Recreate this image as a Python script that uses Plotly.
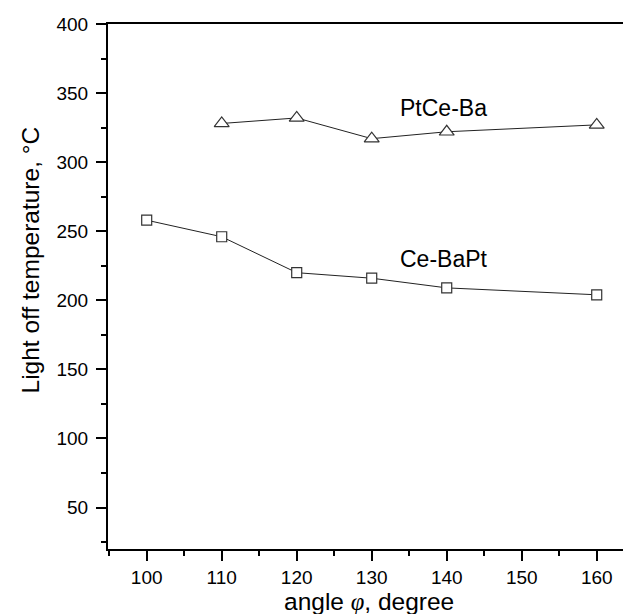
import plotly.graph_objects as go

angle_cebapt = [100, 110, 120, 130, 140, 160]
temp_cebapt = [258, 246, 220, 216, 209, 204]
angle_ptceba = [110, 120, 130, 140, 160]
temp_ptceba = [328, 332, 317, 322, 327]
x_ticks = [100, 110, 120, 130, 140, 150, 160]
y_ticks = [50, 100, 150, 200, 250, 300, 350, 400]

FONT = "Liberation Sans, Arial, sans-serif"
OFF = 8  # default page body margin
W, H = 631 - OFF, 614 - OFF
L, R, T, B = 108 - OFF, 0, 24 - OFF, 65
PW, PH = W - L - R, H - T - B

fig = go.Figure()
fig.add_trace(go.Scatter(
    x=angle_cebapt, y=temp_cebapt, mode="lines+markers", name="Ce-BaPt",
    line=dict(color="#222222", width=1),
    marker=dict(symbol="square", size=10, color="white", line=dict(color="#333333", width=1.2)),
))
fig.add_trace(go.Scatter(
    x=angle_ptceba, y=temp_ptceba, mode="lines+markers", name="PtCe-Ba",
    line=dict(color="#222222", width=1),
    marker=dict(symbol="triangle-up", size=13, color="white", line=dict(color="#333333", width=1.2)),
))

fig.add_annotation(x=139.6, y=339, text="PtCe-Ba", showarrow=False,
                   font=dict(family=FONT, size=23, color="black"))
fig.add_annotation(x=139.6, y=230, text="Ce-BaPt", showarrow=False,
                   font=dict(family=FONT, size=23, color="black"))

# axis titles (positions given in page pixels, converted to paper coords)
fig.add_annotation(xref="paper", yref="paper", x=(30 - OFF - L) / PW, y=1 - (260.5 - OFF - T) / PH,
                   text="Light off temperature, °C", textangle=-90, showarrow=False,
                   xanchor="center", yanchor="middle",
                   font=dict(family=FONT, size=24.5, color="black"))
fig.add_annotation(xref="paper", yref="paper", x=(369 - OFF - L) / PW, y=-(601 - OFF - (H - B)) / PH,
                   text="angle <span style='font-family:Liberation Serif'><i>φ</i></span>, degree",
                   showarrow=False, xanchor="center", yanchor="middle",
                   font=dict(family=FONT, size=24.5, color="black"))

fig.update_layout(
    width=W, height=H,
    margin=dict(l=L, r=R, t=T, b=B),
    paper_bgcolor="white", plot_bgcolor="white",
    showlegend=False,
    font=dict(family=FONT, size=19, color="black"),
    xaxis=dict(
        range=[94.84, 164.57], tickvals=x_ticks, ticktext=[str(v) for v in x_ticks],
        automargin=False,
        showgrid=False, zeroline=False,
        showline=True, linecolor="black", linewidth=2, mirror=True,
        ticks="outside", ticklen=10, tickwidth=2, tickcolor="black",
        minor=dict(dtick=5, tick0=95, ticks="outside", ticklen=5, tickwidth=2, tickcolor="black", showgrid=False),
        tickfont=dict(family=FONT, size=19),
    ),
    yaxis=dict(
        range=[20, 400], tickvals=y_ticks, ticktext=[str(v) for v in y_ticks],
        automargin=False,
        showgrid=False, zeroline=False,
        showline=True, linecolor="black", linewidth=2,
        ticks="outside", ticklen=10, tickwidth=2, tickcolor="black",
        ticklabelstandoff=4,
        minor=dict(dtick=25, tick0=0, ticks="outside", ticklen=5, tickwidth=2, tickcolor="black", showgrid=False),
        tickfont=dict(family=FONT, size=19),
    ),
)

fig.write_html("out.html")
